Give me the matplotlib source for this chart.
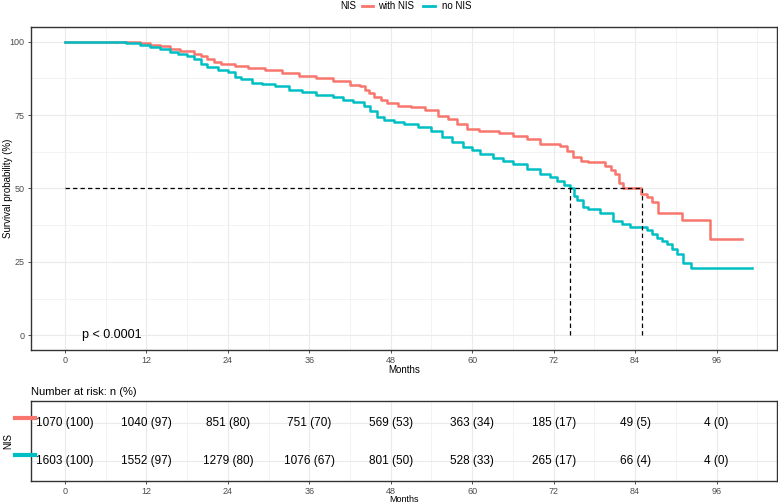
import matplotlib
matplotlib.use('Agg')
import matplotlib.pyplot as plt
from matplotlib.lines import Line2D

plt.rcParams['font.family'] = ['Liberation Sans', 'DejaVu Sans']

# Kaplan-Meier steps (months, survival %)
red_time = [0, 8.7, 11, 12.5, 14, 15.5, 17, 19, 20, 21, 22, 23, 25, 27, 29.5, 32,
            34.5, 37, 39.5, 42, 43.5, 44.2, 44.8, 45.5, 46.5, 47.5, 49, 51, 53, 55,
            56.5, 57.8, 59.2, 61, 64, 66, 68, 70, 73, 73.9, 74.9, 76, 77, 79.5, 80.5,
            81, 81.6, 82.2, 84.9, 85.8, 86.5, 87.4, 90.9, 95, 99.7]
red_surv = [100, 99.8, 99.4, 99.0, 98.6, 97.6, 96.8, 95.8, 95.2, 94.2, 93.2, 92.4,
            91.6, 90.9, 90.2, 89.4, 88.4, 87.5, 86.7, 85.4, 84.8, 83.5, 82.5, 81.2,
            80.0, 79.2, 78.2, 77.6, 76.6, 74.6, 73.6, 72.0, 70.4, 69.7, 69.0, 68.0,
            66.9, 65.2, 64.5, 62.9, 60.6, 59.5, 58.9, 57.8, 56.4, 55.0, 52.0, 50.0,
            48.2, 47.0, 45.5, 41.5, 39.1, 32.7, 32.7]

teal_time = [0, 5, 9, 11, 12.5, 14, 15.5, 16.6, 18, 19, 20, 21, 22.5, 24, 25, 26,
             27.5, 29, 31, 33, 35, 37, 39.5, 41, 42.5, 44, 45, 46, 47, 48.5, 50, 52,
             54, 55.5, 57, 58.7, 60, 61.2, 63, 64.5, 66, 68, 70, 71.5, 72.5, 73.5,
             74.4, 75, 75.5, 76.3, 77, 78.8, 80.7, 82, 83.2, 85.7, 86.5, 87.2, 88,
             88.7, 89.5, 90.1, 91, 92.3, 101.2]
teal_surv = [100, 99.8, 99.5, 98.8, 98.2, 97.5, 96.5, 95.8, 95.0, 94.1, 92.5, 91.3,
             90.2, 89.6, 88.0, 87.3, 86.0, 85.6, 85.0, 83.6, 82.8, 82.0, 81.1, 80.3,
             79.3, 78.0, 76.5, 74.5, 73.2, 72.6, 72.0, 71.0, 69.5, 67.5, 66.0, 64.0,
             63.0, 61.8, 60.5, 59.3, 58.4, 56.8, 55.0, 53.8, 52.5, 51.2, 50.0, 47.5,
             46.0, 43.6, 43.0, 41.5, 39.0, 38.0, 36.8, 35.7, 34.5, 33.3, 32.2, 31.2,
             29.5, 27.8, 24.5, 22.8, 22.8]

group_labels = ['with NIS', 'no NIS']
medians = [85.0, 74.4]

# number at risk table
risk_times = [0, 12, 24, 36, 48, 60, 72, 84, 96]
risk_red = ['1070 (100)', '1040 (97)', '851 (80)', '751 (70)', '569 (53)',
            '363 (34)', '185 (17)', '49 (5)', '4 (0)']
risk_teal = ['1603 (100)', '1552 (97)', '1279 (80)', '1076 (67)', '801 (50)',
             '528 (33)', '265 (17)', '66 (4)', '4 (0)']

red = '#F8766D'
teal = '#00BFC4'
grid_col = '#EBEBEB'
xticks = [0, 12, 24, 36, 48, 60, 72, 84, 96]
xlim = (-5, 104.9)


def style_axes(ax):
    # ggplot theme_bw look
    for s in ax.spines.values():
        s.set_color('#333333')
        s.set_linewidth(1.0)
    ax.set_xlim(*xlim)
    ax.set_xticks(xticks)
    ax.set_xticks([6 + 12 * i for i in range(9)], minor=True)
    ax.grid(which='major', color=grid_col, linewidth=0.8)
    ax.grid(which='minor', color=grid_col, linewidth=0.4)
    ax.set_axisbelow(True)
    ax.tick_params(which='major', length=2.5, width=0.6, color='#333333',
                   labelsize=6.5, labelcolor='#4D4D4D', pad=2)
    ax.tick_params(which='minor', length=0)


fig = plt.figure(figsize=(7.78, 5.04), dpi=100)

# main survival panel
ax = fig.add_axes([0.0398, 0.3056, 0.9589, 0.6408])
style_axes(ax)
ax.set_ylim(-5, 105)
ax.set_yticks([0, 25, 50, 75, 100])
ax.set_yticks([12.5, 37.5, 62.5, 87.5], minor=True)

ax.step(red_time, red_surv, where='post', color=red, linewidth=1.8)
ax.step(teal_time, teal_surv, where='post', color=teal, linewidth=1.8)

# median survival lines
ax.plot([0, max(medians)], [50, 50], color='black', linestyle='--', linewidth=0.9,
        dashes=(3.5, 2.5))
for m in medians:
    ax.plot([m, m], [0, 50], color='black', linestyle='--', linewidth=0.9,
            dashes=(3.5, 2.5))

ax.text(2.5, 0, 'p < 0.0001', fontsize=9, va='center', ha='left')
ax.set_ylabel('Survival probability (%)', fontsize=7, va='center')
ax.yaxis.set_label_coords(-0.0305, 0.5)
ax.set_xlabel('Months', fontsize=7, labelpad=0)

# legend at top
fig.text(0.448, 0.989, 'NIS', fontsize=7, ha='center', va='center')
fig.add_artist(Line2D([0.465, 0.479], [0.989, 0.989], color=red, linewidth=2))
fig.text(0.486, 0.989, group_labels[0], fontsize=7, ha='left', va='center')
fig.add_artist(Line2D([0.544, 0.559], [0.989, 0.989], color=teal, linewidth=2))
fig.text(0.568, 0.989, group_labels[1], fontsize=7, ha='left', va='center')

# risk table panel
tab = fig.add_axes([0.0398, 0.0456, 0.9589, 0.1587])
style_axes(tab)
tab.set_ylim(0.45, 2.6)
tab.set_yticks([1, 2])
tab.set_yticklabels(['', ''])
tab.tick_params(axis='y', length=0)
for t, a, b in zip(risk_times, risk_red, risk_teal):
    tab.text(t, 2, a, fontsize=8.5, ha='center', va='center')
    tab.text(t, 1, b, fontsize=8.5, ha='center', va='center')
tab.set_xlabel('Months', fontsize=6.5, labelpad=-1)
tab.set_title('Number at risk: n (%)', fontsize=8, loc='left', pad=4)
tab.set_ylabel('NIS', fontsize=7, va='center')
tab.yaxis.set_label_coords(-0.0305, 0.5)

# coloured strata keys left of the table
fig.add_artist(Line2D([0.019, 0.045], [1 - 418 / 504, 1 - 418 / 504], color=red,
                      linewidth=3))
fig.add_artist(Line2D([0.019, 0.045], [1 - 455 / 504, 1 - 455 / 504], color=teal,
                      linewidth=3))

fig.savefig('out.png', dpi=100)
